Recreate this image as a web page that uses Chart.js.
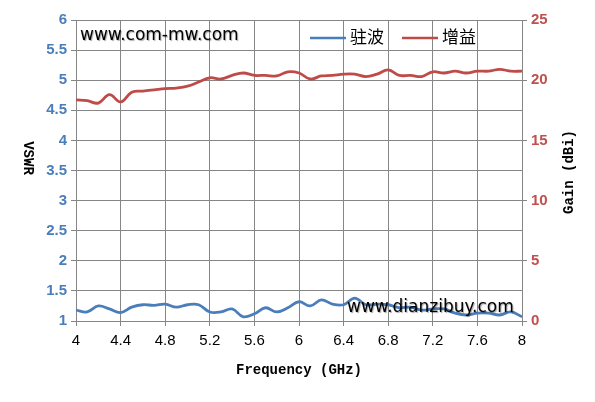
<!DOCTYPE html>
<html><head><meta charset="utf-8">
<script src="https://cdn.jsdelivr.net/npm/chart.js@4/dist/chart.umd.min.js"></script>
<style>html,body{margin:0;padding:0;background:#fff}#wrap{width:595px;height:402px}</style>
</head><body><div id="wrap"><canvas id="c" width="595" height="402"></canvas></div>
<script>
const freq = [4.0,4.1,4.2,4.3,4.4,4.5,4.6,4.7,4.8,4.9,5.0,5.1,5.2,5.3,5.4,5.5,5.6,5.7,5.8,5.9,6.0,6.1,6.2,6.3,6.4,6.5,6.6,6.7,6.8,6.9,7.0,7.1,7.2,7.3,7.4,7.5,7.6,7.7,7.8,7.9,8.0];
const vswr = [1.18,1.15,1.25,1.2,1.14,1.23,1.27,1.26,1.28,1.23,1.27,1.27,1.15,1.15,1.2,1.07,1.12,1.22,1.15,1.22,1.32,1.25,1.35,1.28,1.27,1.38,1.27,1.28,1.27,1.22,1.23,1.18,1.2,1.2,1.13,1.1,1.13,1.13,1.1,1.15,1.07];
const gain = [18.36,18.3,18.1,18.8,18.2,19.0,19.1,19.2,19.3,19.35,19.5,19.85,20.2,20.1,20.4,20.6,20.4,20.4,20.35,20.7,20.6,20.1,20.35,20.4,20.5,20.5,20.3,20.5,20.85,20.4,20.4,20.3,20.7,20.6,20.75,20.6,20.75,20.75,20.9,20.75,20.75];
const seriesNames = ['驻波','增益'];
const xTitle = 'Frequency (GHz)';
const yTitle = 'VSWR';
const y1Title = 'Gain (dBi)';
const watermarks = ['www.com-mw.com','www.dianzibuy.com'];

const BLUE = '#4a7ebb', RED = '#be4b48', GRID = '#868686';

const overlay = {
  id: 'overlay',
  afterDraw(chart) {
    const ctx = chart.ctx, a = chart.chartArea;
    ctx.save();
    // watermarks
    ctx.font = '17px "DejaVu Sans", Verdana, sans-serif';
    ctx.textBaseline = 'middle';
    ctx.textAlign = 'left';
    ctx.shadowColor = 'rgba(0,0,0,0.35)';
    ctx.shadowOffsetX = 1; ctx.shadowOffsetY = 1; ctx.shadowBlur = 1;
    ctx.fillStyle = '#000';
    ctx.fillText(watermarks[0], 80, 36);
    ctx.fillText(watermarks[1], 347, 308);
    ctx.shadowColor = 'transparent';
    // legend
    const items = [{x:310, c:BLUE, t:seriesNames[0]},{x:402, c:RED, t:seriesNames[1]}];
    ctx.font = '17px "Noto Sans CJK SC", sans-serif';
    items.forEach(it => {
      ctx.strokeStyle = it.c; ctx.lineWidth = 2.5;
      ctx.beginPath(); ctx.moveTo(it.x, 38); ctx.lineTo(it.x+36, 38); ctx.stroke();
      ctx.fillStyle = '#000';
      ctx.fillText(it.t, it.x+40, 37);
    });
    // axis titles
    ctx.font = 'bold 14px "Liberation Mono", "Courier New", monospace';
    ctx.fillStyle = '#000';
    ctx.textAlign = 'center';
    ctx.fillText(xTitle, (a.left+a.right)/2, 370);
    ctx.save();
    ctx.translate(28, 158); ctx.rotate(Math.PI/2);
    ctx.fillText(yTitle, 0, 0);
    ctx.restore();
    ctx.save();
    ctx.translate(569, 172); ctx.rotate(-Math.PI/2);
    ctx.fillText(y1Title, 0, 0);
    ctx.restore();
    ctx.restore();
  }
};

new Chart(document.getElementById('c'), {
  type: 'line',
  data: {
    labels: freq,
    datasets: [
      {label: seriesNames[0], data: freq.map((f,i)=>({x:f,y:vswr[i]})), yAxisID:'y', borderColor: BLUE, borderWidth: 2.8, pointRadius: 0, tension: 0.4, fill:false},
      {label: seriesNames[1], data: freq.map((f,i)=>({x:f,y:gain[i]})), yAxisID:'y1', borderColor: RED, borderWidth: 2.8, pointRadius: 0, tension: 0.4, fill:false}
    ]
  },
  options: {
    responsive: false, animation: false, devicePixelRatio: 1,
    layout: {padding: {top: 20, bottom: 0, left: 0, right: 0}},
    plugins: {legend: {display:false}, tooltip:{enabled:false}},
    scales: {
      x: {
        type: 'linear', min: 4, max: 8,
        ticks: {stepSize: 0.4, color:'#000', font:{size:15, family:'"Liberation Sans", Arial, sans-serif'}, padding: 6, maxRotation:0,
          callback: v => String(Math.round(v*10)/10)},
        grid: {color: GRID, lineWidth:1, tickLength: 5, drawTicks: true},
        border: {color: GRID},
        afterFit: s => { s.height = 81; }
      },
      y: {
        position:'left', min: 1, max: 6,
        ticks: {stepSize: 0.5, color: BLUE, font:{size:15, weight:'bold', family:'"Liberation Sans", Arial, sans-serif'}, padding: 4,
          callback: v => String(Math.round(v*10)/10)},
        grid: {color: GRID, lineWidth:1, tickLength: 5},
        border: {color: GRID},
        afterFit: s => { s.width = 76; }
      },
      y1: {
        position:'right', min: 0, max: 25,
        ticks: {stepSize: 5, color: '#c0504d', font:{size:15, weight:'bold', family:'"Liberation Sans", Arial, sans-serif'}, padding: 4},
        grid: {drawOnChartArea:false, color: GRID, tickLength: 5},
        border: {color: GRID},
        afterFit: s => { s.width = 73; }
      }
    }
  },
  plugins: [overlay]
});
</script></body></html>
